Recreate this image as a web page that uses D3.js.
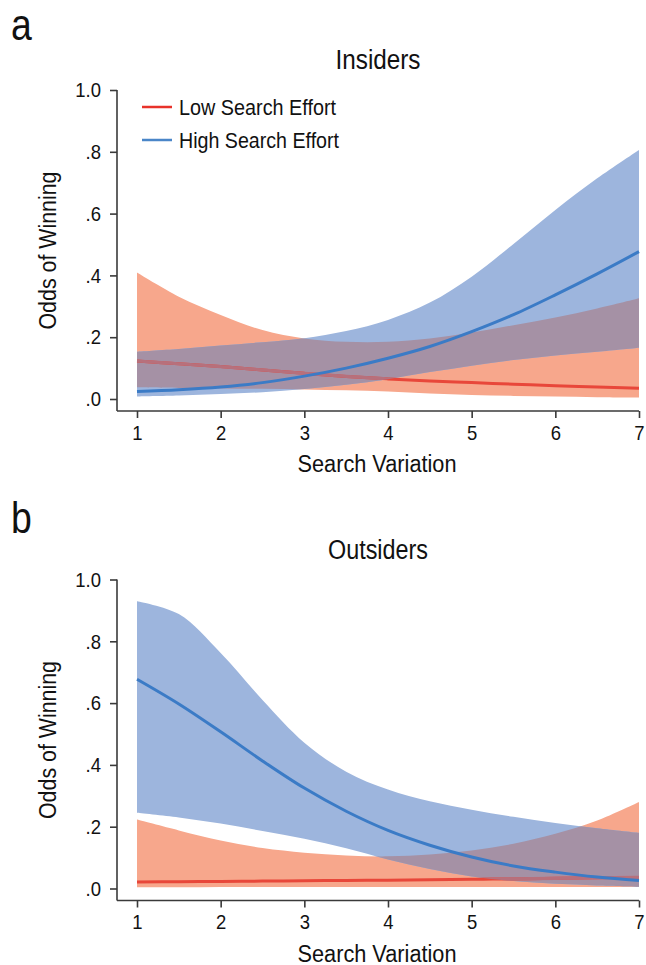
<!DOCTYPE html>
<html>
<head>
<meta charset="utf-8">
<script src="https://cdn.jsdelivr.net/npm/d3@7"></script>
<style>
  html, body { margin: 0; padding: 0; background: #fff; }
  svg { display: block; }
  text { font-family: "Liberation Sans", Arial, sans-serif; fill: #111; }
</style>
</head>
<body>
<svg id="chart" width="646" height="965"></svg>
<script>
// ---- Data ----
const searchVariation = [1, 1.5, 2, 2.5, 3, 3.5, 4, 4.5, 5, 5.5, 6, 6.5, 7];
const xTicks = [1, 2, 3, 4, 5, 6, 7];
const yTicks = [0, 0.2, 0.4, 0.6, 0.8, 1.0];
const yTickLabels = [".0", ".2", ".4", ".6", ".8", "1.0"];
const seriesNames = ["Low Search Effort", "High Search Effort"];
const panelTitles = ["Insiders", "Outsiders"];
const panelLetters = ["a", "b"];

// Insiders
const insLowFit   = [0.123, 0.114, 0.105, 0.094, 0.083, 0.073, 0.065, 0.058, 0.053, 0.048, 0.043, 0.039, 0.035];
const insLowUpper = [0.409, 0.331, 0.272, 0.223, 0.196, 0.185, 0.185, 0.196, 0.215, 0.239, 0.264, 0.293, 0.326];
const insLowLower = [0.038, 0.036, 0.034, 0.033, 0.031, 0.028, 0.024, 0.018, 0.013, 0.010, 0.008, 0.006, 0.005];
const insHighFit   = [0.024, 0.030, 0.039, 0.053, 0.074, 0.100, 0.132, 0.170, 0.218, 0.273, 0.337, 0.405, 0.477];
const insHighUpper = [0.153, 0.162, 0.173, 0.184, 0.197, 0.220, 0.256, 0.312, 0.396, 0.502, 0.612, 0.714, 0.806];
const insHighLower = [0.008, 0.011, 0.016, 0.022, 0.032, 0.046, 0.064, 0.087, 0.108, 0.126, 0.141, 0.153, 0.166];

// Outsiders
const outLowFit   = [0.021, 0.022, 0.023, 0.024, 0.025, 0.026, 0.027, 0.028, 0.030, 0.031, 0.033, 0.035, 0.036];
const outLowUpper = [0.223, 0.188, 0.155, 0.131, 0.116, 0.107, 0.104, 0.110, 0.123, 0.145, 0.177, 0.220, 0.280];
const outLowLower = [0.004, 0.004, 0.005, 0.005, 0.005, 0.005, 0.005, 0.005, 0.005, 0.005, 0.005, 0.005, 0.005];
const outHighFit   = [0.677, 0.597, 0.507, 0.413, 0.325, 0.250, 0.188, 0.140, 0.102, 0.073, 0.053, 0.037, 0.026];
const outHighUpper = [0.930, 0.888, 0.762, 0.610, 0.472, 0.378, 0.320, 0.282, 0.255, 0.232, 0.212, 0.195, 0.180];
const outHighLower = [0.245, 0.230, 0.210, 0.186, 0.161, 0.130, 0.094, 0.063, 0.039, 0.024, 0.015, 0.010, 0.006];

const panels = [
  { low: { fit: insLowFit, upper: insLowUpper, lower: insLowLower },
    high: { fit: insHighFit, upper: insHighUpper, lower: insHighLower }, legend: true },
  { low: { fit: outLowFit, upper: outLowUpper, lower: outLowLower },
    high: { fit: outHighFit, upper: outHighUpper, lower: outHighLower }, legend: false }
];

// ---- Styles ----
const C = {
  lowBand: "#f7a78c", highBand: "#9db5dd", overlap: "#a591a5",
  lowLine: "#e8473a", lowLineMuted: "#b7707c", highLine: "#3b7bc6",
  axis: "#3a3a3a"
};

const svg = d3.select("#chart");
const x = d3.scaleLinear().domain([1, 7]).range([137, 639]);
const plotTop = 90, plotZero = 399, axisY = 411, axisX = 117;

function condense(sel, ratio) {
  sel.each(function () {
    const len = this.getComputedTextLength();
    d3.select(this).attr("textLength", len * ratio).attr("lengthAdjust", "spacingAndGlyphs");
  });
}

panels.forEach((p, i) => {
  const off = i * 489.5;
  const g = svg.append("g").attr("transform", `translate(0,${off})`);
  const y = d3.scaleLinear().domain([0, 1]).range([plotZero, plotTop]);

  const bandData = s => searchVariation.map((v, k) => ({ x: v, lo: s.lower[k], hi: s.upper[k] }));
  const lineData = s => searchVariation.map((v, k) => ({ x: v, y: s.fit[k] }));
  const area = d3.area().x(d => x(d.x)).y0(d => y(d.lo)).y1(d => y(d.hi)).curve(d3.curveCatmullRom);
  const line = d3.line().x(d => x(d.x)).y(d => y(d.y)).curve(d3.curveCatmullRom);

  const clipId = "clipHigh" + i;
  g.append("clipPath").attr("id", clipId)
    .append("path").attr("d", area(bandData(p.high)));

  g.append("path").attr("d", area(bandData(p.low))).attr("fill", C.lowBand);
  g.append("path").attr("d", area(bandData(p.high))).attr("fill", C.highBand);
  g.append("path").attr("d", area(bandData(p.low))).attr("fill", C.overlap)
    .attr("clip-path", `url(#${clipId})`);
  g.append("path").attr("d", line(lineData(p.low))).attr("fill", "none")
    .attr("stroke", C.lowLine).attr("stroke-width", 3);
  g.append("path").attr("d", line(lineData(p.low))).attr("fill", "none")
    .attr("stroke", C.lowLineMuted).attr("stroke-width", 3.2)
    .attr("clip-path", `url(#${clipId})`);
  g.append("path").attr("d", line(lineData(p.high))).attr("fill", "none")
    .attr("stroke", C.highLine).attr("stroke-width", 3);

  // axes
  const yAxis = d3.axisLeft(y).tickValues(yTicks).tickFormat((d, k) => yTickLabels[k])
    .tickSize(7).tickSizeOuter(0).tickPadding(9);
  const ya = g.append("g").attr("transform", `translate(${axisX},0)`).call(yAxis);
  ya.select(".domain").remove();
  ya.append("line").attr("x1", 0).attr("x2", 0).attr("y1", plotTop).attr("y2", axisY)
    .attr("stroke", C.axis).attr("stroke-width", 1.6);

  const xAxis = d3.axisBottom(x).tickValues(xTicks).tickFormat(d3.format("d"))
    .tickSize(7).tickSizeOuter(0).tickPadding(7);
  const xa = g.append("g").attr("transform", `translate(0,${axisY})`).call(xAxis);
  xa.select(".domain").remove();
  xa.append("line").attr("x1", axisX).attr("x2", x(7)).attr("y1", 0).attr("y2", 0)
    .attr("stroke", C.axis).attr("stroke-width", 1.6);

  [ya, xa].forEach(a => {
    a.selectAll(".tick line").attr("stroke", C.axis).attr("stroke-width", 1.6);
    a.selectAll(".tick text").attr("font-size", 21).attr("fill", "#111")
      .style("font-family", '"Liberation Sans", Arial, sans-serif');
    condense(a.selectAll(".tick text"), 0.88);
  });

  // titles
  g.append("text").attr("x", (axisX + x(7)) / 2).attr("y", 69).attr("text-anchor", "middle")
    .attr("font-size", 27).attr("textLength", i === 0 ? 85 : 100)
    .attr("lengthAdjust", "spacingAndGlyphs").text(panelTitles[i]);
  g.append("text").attr("x", 377).attr("y", 472).attr("text-anchor", "middle")
    .attr("font-size", 23).attr("textLength", 159)
    .attr("lengthAdjust", "spacingAndGlyphs").text("Search Variation");
  g.append("text").attr("transform", `translate(56,${(plotTop + axisY) / 2}) rotate(-90)`)
    .attr("text-anchor", "middle").attr("font-size", 23).attr("textLength", 158)
    .attr("lengthAdjust", "spacingAndGlyphs").text("Odds of Winning");
  const letter = g.append("text").attr("x", 11).attr("y", i === 0 ? 40 : 43).attr("font-size", 44)
    .text(panelLetters[i]);
  condense(letter, 0.85);

  if (p.legend) {
    const leg = g.append("g");
    [C.lowLine, C.highLine].forEach((c, k) => {
      const yy = 107 + k * 33;
      leg.append("line").attr("x1", 142).attr("x2", 172).attr("y1", yy).attr("y2", yy)
        .attr("stroke", k === 0 ? "#e8322a" : "#4a86c8").attr("stroke-width", 2.5);
      leg.append("text").attr("x", 179).attr("y", yy + 7.5).attr("font-size", 21.5)
        .attr("textLength", k === 0 ? 157 : 160).attr("lengthAdjust", "spacingAndGlyphs")
        .text(seriesNames[k]);
    });
  }
});
</script>
</body>
</html>
